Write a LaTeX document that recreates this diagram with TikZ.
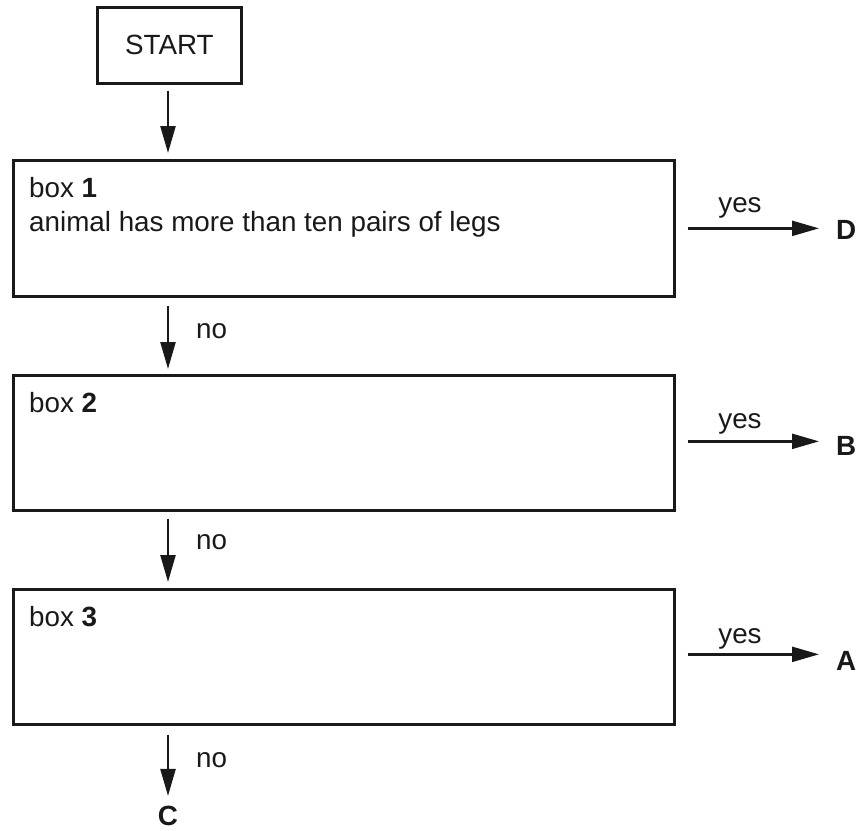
\documentclass[tikz,border=0pt]{standalone}
\usepackage{fontspec}
\setmainfont{Liberation Sans}
\usetikzlibrary{arrows.meta}
\begin{document}
\begin{tikzpicture}[x=1pt,y=-1pt,
  every node/.style={font=\fontsize{27.8}{34}\selectfont, text=black!90},
  frame/.style={draw=black!90, line width=2.7pt, inner sep=0pt, anchor=north west},
  arr/.style={draw=black!90, line width=2.3pt, -{Triangle[length=27pt,width=15pt]}},
  txt/.style={anchor=base west, inner sep=0pt},
  lbl/.style={anchor=west, inner sep=0pt, font=\fontsize{27.8}{34}\selectfont\bfseries}
]
\useasboundingbox (0,0) rectangle (859,830);
% boxes
\node[frame, minimum width=144pt, minimum height=76pt] (start) at (96,6) {};
\node[inner sep=0pt] (starttext) at (start.center) {START};
\node[frame, minimum width=661pt, minimum height=136pt] (box1) at (12,159) {};
\node[frame, minimum width=661pt, minimum height=135pt] (box2) at (12,374) {};
\node[frame, minimum width=661pt, minimum height=135pt] (box3) at (12,588) {};
% box texts
\node[txt] (t1a) at (29,197) {box \textbf{1}};
\node[txt] (t1b) at (29,231) {animal has more than ten pairs of legs};
\node[txt] (t2) at (29,412) {box \textbf{2}};
\node[txt] (t3) at (29,626) {box \textbf{3}};
% outcome labels
\node[lbl] (D) at (836,230) {D};
\node[lbl] (B) at (836,446) {B};
\node[lbl] (A) at (836,661) {A};
\node[inner sep=0pt, font=\fontsize{27.8}{34}\selectfont\bfseries] (C) at (168,816) {C};
% vertical connectors
\coordinate (vx) at (168,0);
\draw[arr, shorten <=6pt, shorten >=6pt] (vx |- start.south) -- (vx |- box1.north);
\draw[arr, shorten <=8pt, shorten >=5pt] (vx |- box1.south) -- (vx |- box2.north);
\draw[arr, shorten <=7pt, shorten >=6pt] (vx |- box2.south) -- (vx |- box3.north);
\draw[arr, shorten <=9pt, shorten >=10pt] (vx |- box3.south) -- (C.north);
% no labels
\node[txt] (no1) at (196,338) {no};
\node[txt] (no2) at (196,549) {no};
\node[txt] (no3) at (196,767) {no};
% horizontal connectors
\draw[arr, shorten <=12pt, shorten >=17pt] (box1.east) -- (box1.east -| D.west);
\draw[arr, shorten <=12pt, shorten >=17pt] ([yshift=1.5pt]box2.east) -- ([yshift=1.5pt]box2.east -| B.west);
\draw[arr, shorten <=12pt, shorten >=17pt] ([yshift=2.5pt]box3.east) -- ([yshift=2.5pt]box3.east -| A.west);
% yes labels
\node[txt, anchor=base] (y1) at (740,212) {yes};
\node[txt, anchor=base] (y2) at (740,428) {yes};
\node[txt, anchor=base] (y3) at (740,643) {yes};
\end{tikzpicture}
\end{document}
